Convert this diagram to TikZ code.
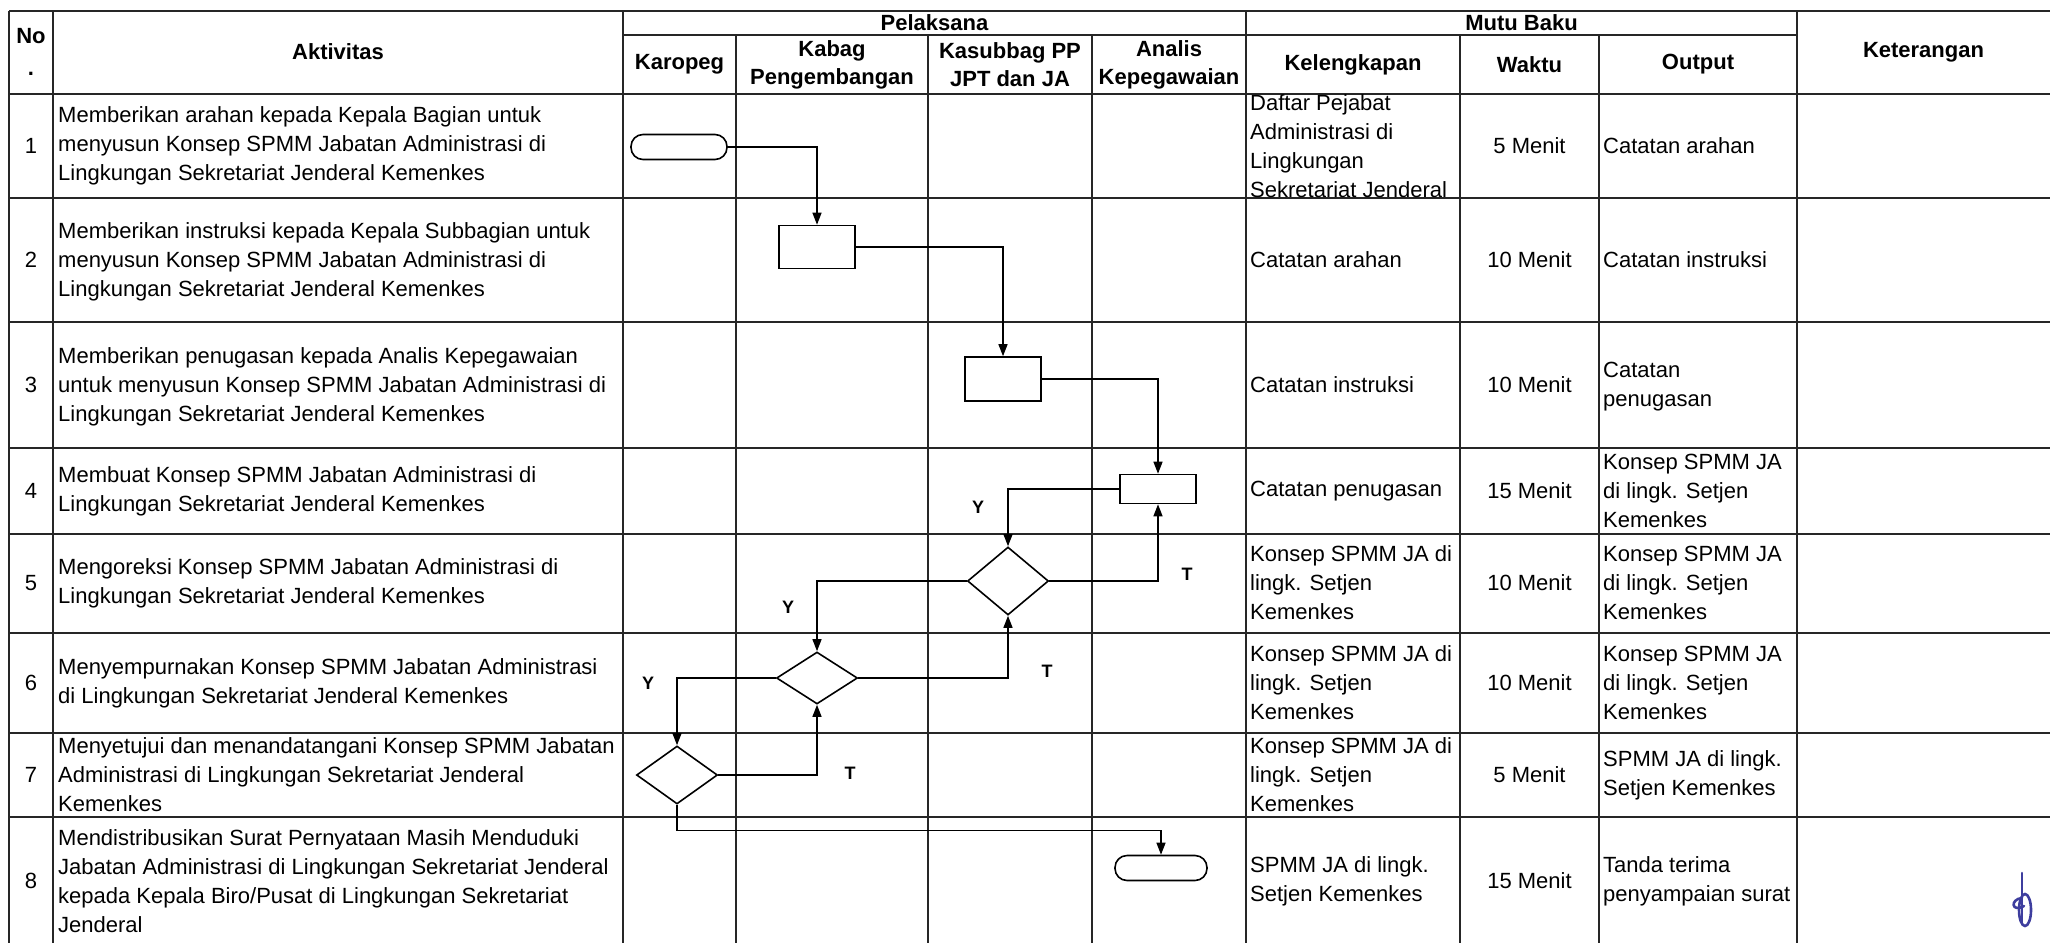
\documentclass[tikz,border=0pt]{standalone}
\usepackage{fontspec}
\setmainfont{Liberation Sans}
\usetikzlibrary{arrows.meta, shapes.geometric, calc}
\definecolor{parafblue}{RGB}{62,62,158}

\begin{document}
\begin{tikzpicture}[x=1pt, y=-1pt,
    rule/.style={line width=1.8pt, color=black!85},
    head/.style={font=\fontsize{22}{28}\selectfont\bfseries, align=center, inner sep=0pt},
    cell/.style={font=\fontsize{22}{29}\selectfont, align=left, anchor=west, inner sep=0pt},
    num/.style={font=\fontsize{22}{29}\selectfont, inner sep=0pt},
    proc/.style={draw, line width=1.6pt, minimum width=76pt, inner sep=0pt},
    term/.style={draw, line width=1.6pt, rounded corners=12pt, minimum height=25pt, inner sep=0pt},
    decide/.style={draw, diamond, line width=1.6pt, inner sep=0pt, minimum width=81pt},
    flow/.style={line width=1.3pt, -{Triangle[length=12pt,width=9pt]}},
    yt/.style={font=\fontsize{18}{18}\selectfont\bfseries, inner sep=0pt},
    paraf/.style={line width=2.6pt, color=parafblue, line cap=round}
]
\useasboundingbox (0,0) rectangle (2050,943);

\foreach \y in {11,94,198,322,448,534,633,733,817}
    \draw[rule] (9,\y) -- (2050,\y);
\draw[rule] (623,35) -- (1797,35);
\foreach \x in {9,53,623,1246,1797}
    \draw[rule] (\x,11) -- (\x,943);
\foreach \x in {736,928,1092,1460,1599}
    \draw[rule] (\x,35) -- (\x,943);

\node[head, font=\fontsize{22}{32}\selectfont\bfseries] (hno) at (31,52) {No\\.};
\node[head] (hakt) at (338,52) {Aktivitas};
\node[head] (hpel) at (934.5,23) {Pelaksana};
\node[head] (hkar) at (679.5,64.5) {Karopeg};
\node[head] (hkab) at (832,64.5) {Kabag\\Pengembangan};
\node[head] (hkas) at (1010,64.5) {Kasubbag PP\\JPT dan JA};
\node[head] (hana) at (1169,64.5) {Analis\\Kepegawaian};
\node[head] (hmut) at (1521.5,23) {Mutu Baku};
\node[head] (hkel) at (1353,64.5) {Kelengkapan};
\node[head] (hwkt) at (1529.5,64.5) {Waktu};
\node[head] (hout) at (1698,64.5) {Output};
\node[head] (hket) at (1923.5,52) {Keterangan};

\foreach \n/\y/\m in {1/146/5,2/260/10,3/385/10,4/491/15,5/583/10,6/683/10,7/775/5,8/881/15}{
    \node[num] (no\n) at (31,\y) {\n};
    \node[num] (wkt\n) at (1529.5,\y) {\m{} Menit};
}

\node[cell] (akt1) at (58,146) {Memberikan arahan kepada Kepala Bagian untuk\\menyusun Konsep SPMM Jabatan Administrasi di\\Lingkungan Sekretariat Jenderal Kemenkes};
\node[cell] (akt2) at (58,262) {Memberikan instruksi kepada Kepala Subbagian untuk\\menyusun Konsep SPMM Jabatan Administrasi di\\Lingkungan Sekretariat Jenderal Kemenkes};
\node[cell] (akt3) at (58,387) {Memberikan penugasan kepada Analis Kepegawaian\\untuk menyusun Konsep SPMM Jabatan Administrasi di\\Lingkungan Sekretariat Jenderal Kemenkes};
\node[cell] (akt4) at (58,491) {Membuat Konsep SPMM Jabatan Administrasi di\\Lingkungan Sekretariat Jenderal Kemenkes};
\node[cell] (akt5) at (58,583) {Mengoreksi Konsep SPMM Jabatan Administrasi di\\Lingkungan Sekretariat Jenderal Kemenkes};
\node[cell] (akt6) at (58,683) {Menyempurnakan Konsep SPMM Jabatan Administrasi\\di Lingkungan Sekretariat Jenderal Kemenkes};
\node[cell] (akt7) at (58,775) {Menyetujui dan menandatangani Konsep SPMM Jabatan\\Administrasi di Lingkungan Sekretariat Jenderal\\Kemenkes};
\node[cell] (akt8) at (58,881) {Mendistribusikan Surat Pernyataan Masih Menduduki\\Jabatan Administrasi di Lingkungan Sekretariat Jenderal\\kepada Kepala Biro/Pusat di Lingkungan Sekretariat\\Jenderal};

\node[cell] (kel1) at (1250,146) {Daftar Pejabat\\Administrasi di\\Lingkungan\\Sekretariat Jenderal};
\node[cell] (kel2) at (1250,260) {Catatan arahan};
\node[cell] (kel3) at (1250,385) {Catatan instruksi};
\node[cell] (kel4) at (1250,491) {Catatan penugasan};
\node[cell] (kel5) at (1250,583) {Konsep SPMM JA di\\lingk. Setjen\\Kemenkes};
\node[cell] (kel6) at (1250,683) {Konsep SPMM JA di\\lingk. Setjen\\Kemenkes};
\node[cell] (kel7) at (1250,775) {Konsep SPMM JA di\\lingk. Setjen\\Kemenkes};
\node[cell] (kel8) at (1250,881) {SPMM JA di lingk.\\Setjen Kemenkes};

\node[cell] (out1) at (1603,146) {Catatan arahan};
\node[cell] (out2) at (1603,260) {Catatan instruksi};
\node[cell] (out3) at (1603,387) {Catatan\\penugasan};
\node[cell] (out4) at (1603,491) {Konsep SPMM JA\\di lingk. Setjen\\Kemenkes};
\node[cell] (out5) at (1603,583) {Konsep SPMM JA\\di lingk. Setjen\\Kemenkes};
\node[cell] (out6) at (1603,683) {Konsep SPMM JA\\di lingk. Setjen\\Kemenkes};
\node[cell] (out7) at (1603,775) {SPMM JA di lingk.\\Setjen Kemenkes};
\node[cell] (out8) at (1603,881) {Tanda terima\\penyampaian surat};

\node[term, minimum width=96pt] (mulai) at (679,147) {};
\node[proc, minimum height=43pt] (arah) at (817,247) {};
\node[proc, minimum height=44pt] (instr) at (1003,379) {};
\node[proc, minimum height=29pt] (konsep) at (1158,489) {};
\node[decide, minimum height=68pt] (koreksi) at (1008,581) {};
\node[decide, minimum height=52pt] (sempurna) at (817,678) {};
\node[decide, minimum height=58pt] (setuju) at (677,775) {};
\node[term, minimum width=92pt] (selesai) at (1161,868) {};

\draw[flow] (mulai.east) -| (arah.north);
\draw[flow] (arah.east) -| (instr.north);
\draw[flow] (instr.east) -| (konsep.north);
\draw[flow] (konsep.west) -| (koreksi.north);
\draw[flow] (koreksi.east) -| (konsep.south);
\draw[flow] (koreksi.west) -| (sempurna.north);
\draw[flow] (sempurna.east) -| (koreksi.south);
\draw[flow] (sempurna.west) -| (setuju.north);
\draw[flow] (setuju.east) -| (sempurna.south);
\draw[flow] (setuju.south) -- ++(0,26) -| (selesai.north);

\node[yt] (y4) at (978,507) {Y};
\node[yt] (t5) at (1187,574) {T};
\node[yt] (y5) at (788,607) {Y};
\node[yt] (t6) at (1047,671) {T};
\node[yt] (y6) at (648,683) {Y};
\node[yt] (t7) at (850,773) {T};

\draw[paraf] (2022,873) -- (2022,924);
\draw[paraf] (2025,910) ellipse (6 and 16);
\draw[paraf] (2022,898) .. controls (2010,899) and (2011,913) .. (2024,906);
\end{tikzpicture}
\end{document}
